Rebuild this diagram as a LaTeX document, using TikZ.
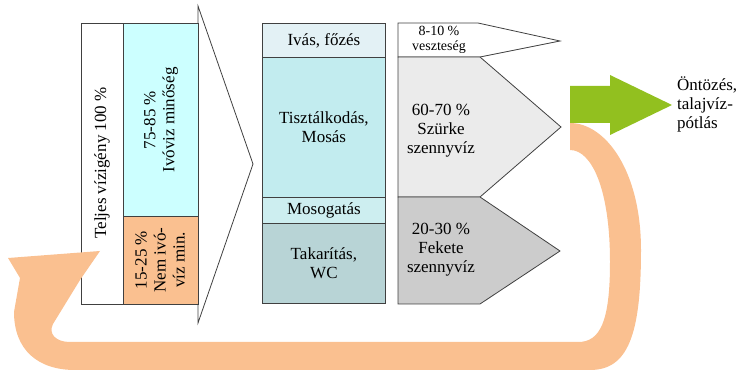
\documentclass[tikz,border=0pt]{standalone}
\usepackage{fontspec}
\setmainfont{Liberation Serif}
\definecolor{orangeF}{HTML}{FAC090}
\definecolor{blueF}{HTML}{CCFFFF}
\definecolor{greenF}{HTML}{92C01F}
\definecolor{midA}{HTML}{E3F1F5}
\definecolor{midB}{HTML}{C2ECEF}
\definecolor{midC}{HTML}{CDEEF0}
\definecolor{midD}{HTML}{B8D4D6}
\definecolor{grayA}{HTML}{EBEBEB}
\definecolor{grayB}{HTML}{CCCCCC}
\definecolor{lineC}{HTML}{404040}
\begin{document}
\begin{tikzpicture}[x=1pt,y=-1pt,
  outl/.style={draw=lineC, line width=0.8pt},
  txt/.style={font=\fontsize{17}{19}\selectfont, align=center, inner sep=0pt},
  smalltxt/.style={font=\fontsize{14}{15}\selectfont, align=center, inner sep=0pt},
  midcell/.style={outl, minimum width=123pt, anchor=north west, inner sep=0pt, txt}]
\useasboundingbox (0,0) rectangle (745,371);

% left column
\draw[outl, fill=white] (81,23) rectangle (123,304);
\draw[outl, fill=blueF] (123,23) rectangle (198,216);
\draw[outl, fill=orangeF] (123,216) rectangle (198,304);
\node[txt, rotate=90] (total) at (102,163) {Teljes vízigény 100 \%};
\node[txt, rotate=90] (ivoviz) at (161,120) {75-85 \%\\Ivóviz minőség};
\node[txt, rotate=90] (nemivo) at (160,260) {15-25 \%\\Nem ivó-\\víz min.};

% chevron
\draw[draw=lineC, line width=0.8pt, line join=miter] (198,23) -- (198,6) -- (253,164) -- (198,323) -- (198,304);

% middle column
\node[midcell, fill=midA, minimum height=34pt] (ivas) at (262,23) {Ivás, főzés};
\node[midcell, fill=midB, minimum height=140pt] (tiszt) at (262,57) {Tisztálkodás,\\Mosás};
\node[midcell, fill=midC, minimum height=26pt] (mosog) at (262,197) {Mosogatás};
\node[midcell, fill=midD, minimum height=80pt] (takar) at (262,223) {Takarítás,\\WC};

% right shapes
\draw[outl, fill=white, line join=miter] (398,23) -- (478,23) -- (560,41) -- (480,57) -- (398,57) -- cycle;
\draw[outl, fill=grayA, line join=miter] (398,57) -- (480,57) -- (561,127) -- (480,197) -- (398,197) -- cycle;
\draw[outl, fill=grayB, line join=miter] (398,197) -- (480,197) -- (560,251) -- (480,304) -- (398,304) -- cycle;
\node[smalltxt] (veszt) at (439,40) {8-10 \%\\veszteség};
\node[txt] (szurke) at (441,131) {60-70 \%\\Szürke\\szennyvíz};
\node[txt] (fekete) at (441,250) {20-30 \%\\Fekete\\szennyvíz};

% green arrow
\fill[greenF] (570,86) -- (610,86) -- (610,75) -- (672,105) -- (610,135) -- (610,123) -- (570,123) -- cycle;
\node[txt, align=left, anchor=west] (ontozes) at (677,104) {Öntözés,\\talajvíz-\\pótlás};

% orange return loop
\fill[orangeF] (570,123) .. controls (605,123) and (641,170) .. (641,250)
  .. controls (641,335) and (628,370) .. (590,370)
  -- (75,370) .. controls (38,370) and (14,350) .. (14,312)
  -- (20,278) -- (8,258) -- (100,251) -- (80,280) -- (53,324)
  .. controls (48,334) and (56,342) .. (70,342)
  -- (578,342) .. controls (600,342) and (610,322) .. (610,262)
  .. controls (610,190) and (592,150) .. (570,150) -- cycle;
\end{tikzpicture}
\end{document}
